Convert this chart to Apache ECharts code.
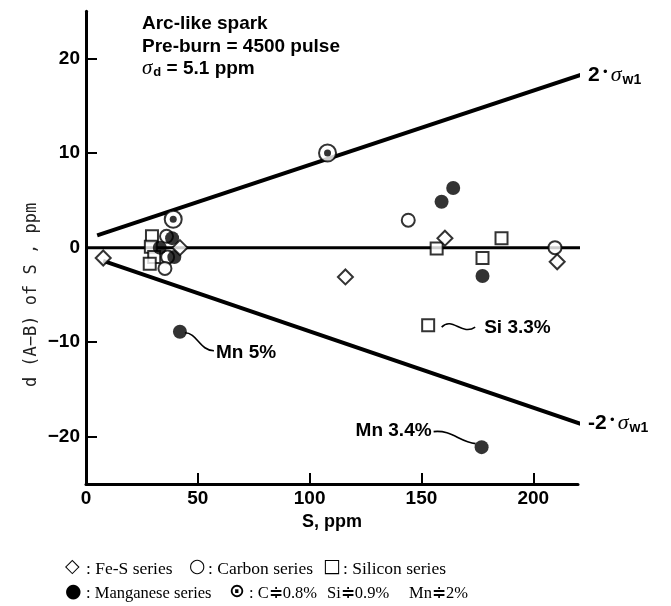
<!DOCTYPE html>
<html>
<head>
<meta charset="utf-8">
<script src="https://cdn.jsdelivr.net/npm/echarts@6/dist/echarts.min.js"></script>
<style>
  html, body { margin: 0; padding: 0; background: #fff; }
  #chart { width: 671px; height: 606px; }
</style>
</head>
<body>
<div id="chart"></div>
<script>
// Sulfur difference d(A-B) versus S content, arc-like spark
const xTicks = [0, 50, 100, 150, 200];
const yTicks = [-20, -10, 0, 10, 20];

// [S ppm, d(A-B) ppm]
const feS = [[7.7, -1.1], [42, 0], [116, -3.1], [160.5, 1.0], [210.7, -1.5]];
const carbon = [[36, 1.2], [36.5, -1.0], [35.3, -2.2], [144.1, 2.9], [209.7, 0]];
const silicon = [[29.5, 1.2], [29, 0.1], [30.5, -1.0], [28.5, -1.7], [156.8, -0.1], [185.8, 1.0], [177.3, -1.1], [153, -8.2]];
const manganese = [[38.5, 1.0], [33, 0], [39.5, -1.0], [164.2, 6.3], [159, 4.85], [177.3, -3.0], [42, -8.9], [176.9, -21.1]];
const highAlloy = [[39, 3.0], [108, 10]];

// +/- 2 sigma_w1 limits and the zero line
const upperLimit = [[5, 1.3], [223, 18.4]];
const lowerLimit = [[7.7, -1.4], [222, -18.7]];
const zeroLine = [[0, 0], [238, 0]];

// labelled samples: [S, d, text]
const notes = [[42, -8.9, 'Mn 5%'], [176.9, -21.1, 'Mn 3.4%'], [153, -8.2, 'Si 3.3%']];

const SANS = '"Liberation Sans", Arial, sans-serif';
const SERIF = '"Liberation Serif", "Times New Roman", serif';
const SYMBOLS = '"DejaVu Sans", sans-serif';

// leader curve (start, two control points, end) and text anchor, in pixels from the sample
const noteGeometry = {
  'Mn 5%': { curve: [5, 1, 17, 1, 20, 19, 34, 19], text: [36, 21], align: 'left' },
  'Mn 3.4%': { curve: [-48, -15.5, -30, -17.5, -22, -5, -6, -3.5], text: [-50, -16], align: 'right' },
  'Si 3.3%': { curve: [13.5, 2, 24, -9, 34, 11, 47, 2], text: [56, 3], align: 'left' }
};

const openMarker = { color: '#fff', borderColor: '#000', borderWidth: 2 };
const limitLine = { color: '#000', width: 4 };

const sigmaRich = {
  n: { fontFamily: SANS, fontWeight: 'bold', fontSize: 21, color: '#000' },
  dot: { fontFamily: SYMBOLS, fontSize: 12, color: '#000', padding: [0, 2, 5, 2] },
  s: { fontFamily: SERIF, fontStyle: 'italic', fontSize: 22, color: '#000' },
  sub: { fontFamily: SANS, fontWeight: 'bold', fontSize: 14, color: '#000', verticalAlign: 'bottom', padding: [9, 0, 0, 1] }
};

const chart = echarts.init(document.getElementById('chart'), null, { renderer: 'canvas' });

function legendText(left, centerY, text, isSymbol, size) {
  return {
    type: 'text', left: left, top: centerY - (isSymbol ? 12 : 10),
    style: {
      text: text,
      fontFamily: isSymbol ? SYMBOLS : SERIF,
      fontWeight: isSymbol ? 'bold' : 'normal',
      fontSize: size,
      fill: '#000'
    }
  };
}

chart.setOption({
  animation: false,
  backgroundColor: '#fff',
  grid: { left: 86, right: 93, top: 11.25, bottom: 122 },
  xAxis: {
    type: 'value', min: 0, max: 220,
    name: 'S, ppm', nameLocation: 'middle', nameGap: 29,
    nameTextStyle: { fontFamily: SANS, fontWeight: 'bold', fontSize: 18, color: '#000' },
    axisLine: { show: true, onZero: false, lineStyle: { color: '#000', width: 3 } },
    axisTick: { show: true, inside: true, length: 11, customValues: xTicks, lineStyle: { color: '#000', width: 2 } },
    axisLabel: { customValues: xTicks, margin: 5, fontFamily: SANS, fontWeight: 'bold', fontSize: 19, color: '#000' },
    splitLine: { show: false }
  },
  yAxis: {
    type: 'value', min: -25, max: 25,
    axisLine: { show: true, onZero: false, lineStyle: { color: '#000', width: 3 } },
    axisTick: { show: true, inside: true, length: 11, customValues: yTicks, lineStyle: { color: '#000', width: 2 } },
    axisLabel: {
      customValues: yTicks, margin: 6, fontFamily: SANS, fontWeight: 'bold', fontSize: 19, color: '#000',
      formatter: v => (v < 0 ? '\u2212' + Math.abs(v) : String(v))
    },
    splitLine: { show: false }
  },
  series: [
    {
      type: 'line', data: zeroLine, symbol: 'none', clip: false, z: 1,
      lineStyle: { color: '#000', width: 3 }
    },
    {
      type: 'line', data: upperLimit, symbol: 'none', clip: false, z: 1,
      lineStyle: limitLine,
      endLabel: { show: true, distance: 8, formatter: '{n|2}{dot|\u2022}{s|\u03C3}{sub|w1}', rich: sigmaRich }
    },
    {
      type: 'line', data: lowerLimit, symbol: 'none', clip: false, z: 1,
      lineStyle: limitLine,
      endLabel: { show: true, distance: 8, formatter: '{n|-2}{dot|\u2022}{s|\u03C3}{sub|w1}', rich: sigmaRich }
    },
    {
      type: 'scatter', symbol: 'rect', symbolSize: 12, z: 3,
      itemStyle: openMarker, data: silicon
    },
    {
      type: 'scatter', symbol: 'circle', symbolSize: 13, z: 3,
      itemStyle: openMarker, data: carbon
    },
    {
      type: 'scatter', symbol: 'circle', symbolSize: 14, z: 4,
      itemStyle: { color: '#000' }, data: manganese
    },
    {
      type: 'scatter', symbol: 'diamond', symbolSize: 15, z: 5,
      itemStyle: openMarker, data: feS
    },
    {
      type: 'scatter', symbol: 'circle', symbolSize: 17, z: 6,
      itemStyle: openMarker, data: highAlloy
    },
    {
      type: 'scatter', symbol: 'circle', symbolSize: 7, z: 7,
      itemStyle: { color: '#000' }, data: highAlloy
    },
    {
      // callouts for the high-alloy samples
      type: 'custom', coordinateSystem: 'cartesian2d', z: 8, silent: true,
      data: notes.map(n => [n[0], n[1]]),
      renderItem: function (params, api) {
        const label = notes[params.dataIndex][2];
        const g = noteGeometry[label];
        const p = api.coord([api.value(0), api.value(1)]);
        const c = g.curve;
        return {
          type: 'group',
          children: [
            {
              type: 'bezierCurve',
              shape: {
                x1: p[0] + c[0], y1: p[1] + c[1],
                cpx1: p[0] + c[2], cpy1: p[1] + c[3],
                cpx2: p[0] + c[4], cpy2: p[1] + c[5],
                x2: p[0] + c[6], y2: p[1] + c[7]
              },
              style: { stroke: '#000', lineWidth: 1.6, fill: null }
            },
            {
              type: 'text',
              x: p[0] + g.text[0], y: p[1] + g.text[1],
              style: {
                text: label, align: g.align, verticalAlign: 'middle',
                fontFamily: SANS, fontWeight: 'bold', fontSize: 19, fill: '#000'
              }
            }
          ]
        };
      }
    }
  ],
  graphic: [
    {
      type: 'text', x: 32, y: 295, rotation: Math.PI / 2,
      style: {
        text: 'd (A\u2212B) of S , ppm', align: 'center', verticalAlign: 'middle',
        fontFamily: '"DejaVu Sans Mono", monospace', fontSize: 17, fill: '#222'
      }
    },
    {
      type: 'text', left: 142, top: 14,
      style: { text: 'Arc-like spark', fontFamily: SANS, fontWeight: 'bold', fontSize: 19, fill: '#000' }
    },
    {
      type: 'text', left: 142, top: 37,
      style: { text: 'Pre-burn = 4500 pulse', fontFamily: SANS, fontWeight: 'bold', fontSize: 19, fill: '#000' }
    },
    {
      type: 'text', left: 142, top: 58,
      style: {
        text: '{s|\u03C3}{sub|d} = 5.1 ppm',
        fontFamily: SANS, fontWeight: 'bold', fontSize: 19, fill: '#000',
        rich: {
          s: { fontFamily: SERIF, fontStyle: 'italic', fontSize: 21, color: '#000' },
          sub: { fontFamily: SANS, fontWeight: 'bold', fontSize: 13, color: '#000', verticalAlign: 'bottom', padding: [8, 0, 0, 1] }
        }
      }
    },
    legendText(65, 570, '\u25C7', true, 19),
    legendText(86, 570, ': Fe-S series', false, 17.5),
    legendText(189, 570, '\u25CB', true, 19),
    legendText(208, 570, ': Carbon series', false, 17.5),
    legendText(323, 570, '\u25A1', true, 19),
    legendText(343, 570, ': Silicon series', false, 17.5),
    legendText(65, 595, '\u25CF', true, 19),
    legendText(86, 595, ': Manganese series', false, 16.5),
    legendText(229, 595, '\u2299', true, 19),
    legendText(249, 595, ': C\u22510.8%', false, 16.5),
    legendText(327, 595, 'Si\u22510.9%', false, 16.5),
    legendText(409, 595, 'Mn\u22512%', false, 16.5)
  ]
});
</script>
</body>
</html>
